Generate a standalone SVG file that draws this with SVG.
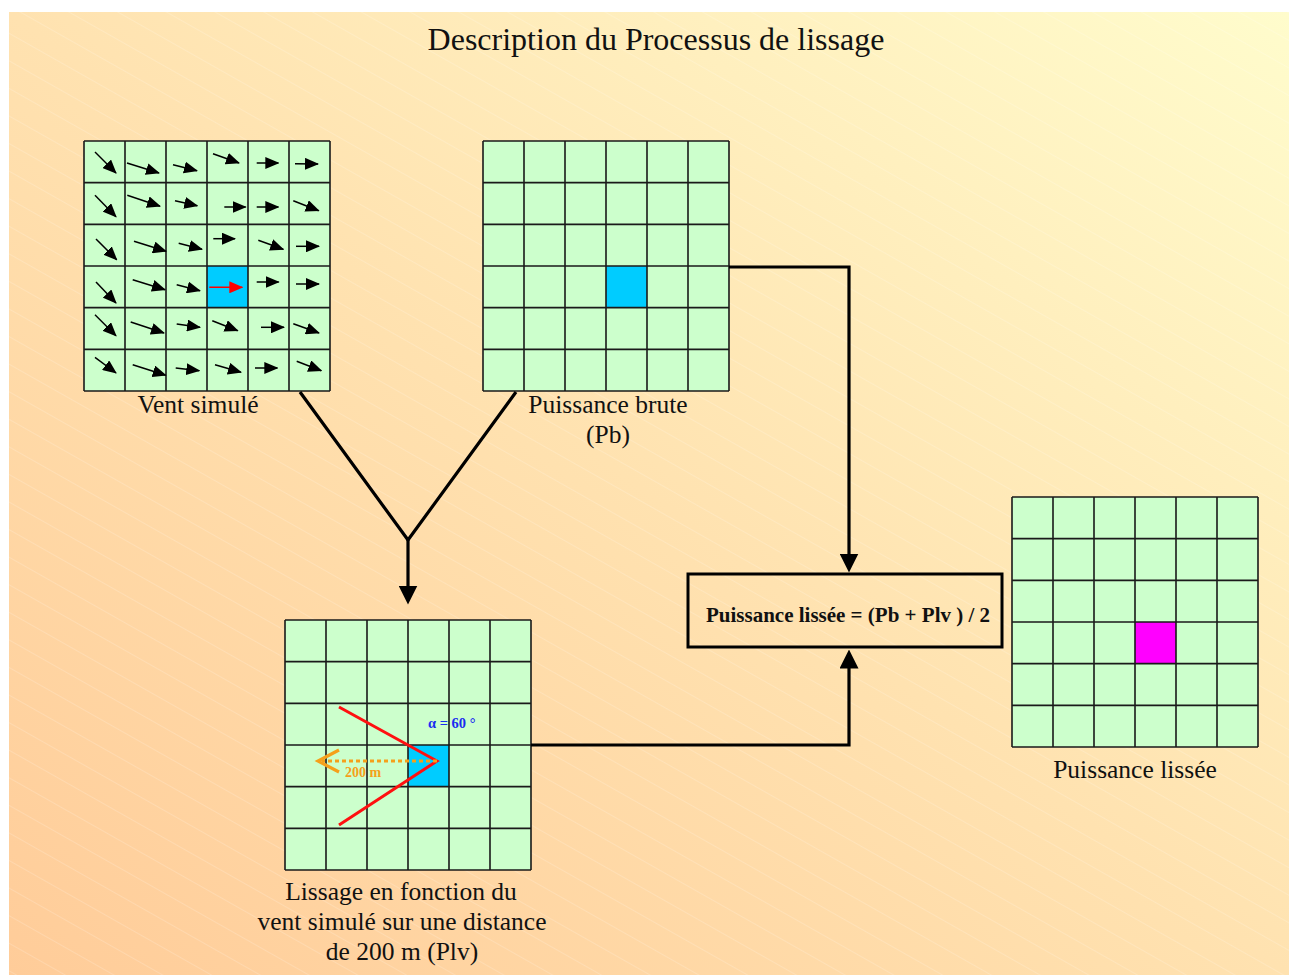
<svg xmlns="http://www.w3.org/2000/svg" width="1289" height="975" viewBox="0 0 1289 975">
<style>
.cell{fill:#CCFFCC}
.gl{fill:none;stroke:#1a1a1a;stroke-width:1.6}
.lbl{font-family:"Liberation Serif","Times New Roman",serif;font-size:25.5px;fill:#111;text-anchor:middle}
.wind{stroke:#000;stroke-width:1.5;fill:none;marker-end:url(#wh)}
.conn{stroke:#000;stroke-width:3.2;fill:none}
</style>
<defs>
<linearGradient id="bg" x1="0" y1="1" x2="1" y2="0">
<stop offset="0" stop-color="#FFCC99"/>
<stop offset="0.5" stop-color="#FFE2B0"/>
<stop offset="1" stop-color="#FFFCCC"/>
</linearGradient>
<pattern id="stripes" width="20" height="24" patternUnits="userSpaceOnUse" patternTransform="rotate(29.5)">
<line x1="0" y1="0.5" x2="20" y2="0.5" stroke="#ffffff" stroke-opacity="0.22" stroke-width="0.8"/>
</pattern>
<marker id="wh" viewBox="0 0 14 12" markerUnits="userSpaceOnUse" markerWidth="14" markerHeight="12" refX="13" refY="6" orient="auto">
<path d="M0,0 L14,6 L0,12 z" fill="#000"/>
</marker>
<marker id="whr" viewBox="0 0 14 12" markerUnits="userSpaceOnUse" markerWidth="14" markerHeight="12" refX="13" refY="6" orient="auto">
<path d="M0,0 L14,6 L0,12 z" fill="#ff0000"/>
</marker>
<marker id="ah" viewBox="0 0 19 19" markerUnits="userSpaceOnUse" markerWidth="19" markerHeight="19" refX="0.5" refY="9.5" orient="auto">
<path d="M0,0 L19,9.5 L0,19 z" fill="#000"/>
</marker>
</defs>

<rect x="9" y="12" width="1280" height="963" fill="url(#bg)"/>
<rect x="9" y="12" width="1280" height="963" fill="url(#stripes)"/>

<text x="656" y="50" font-family="Liberation Serif, Times New Roman, serif" font-size="32" fill="#111" text-anchor="middle">Description du Processus de lissage</text>

<g id="vent-simule">
<rect class="cell" x="84" y="141" width="246" height="250"/>
<rect x="207" y="266" width="41" height="41.67" fill="#00CCFF"/>
<path class="gl" d="M84,141V391M125,141V391M166,141V391M207,141V391M248,141V391M289,141V391M330,141V391M84,141H330M84,182.67H330M84,224.33H330M84,266H330M84,307.67H330M84,349.33H330M84,391H330"/>
<g>
<line class="wind" x1="95" y1="152" x2="116" y2="173"/>
<line class="wind" x1="127" y1="163" x2="159" y2="173"/>
<line class="wind" x1="173" y1="164.7" x2="197" y2="170.7"/>
<line class="wind" x1="213" y1="153.7" x2="239" y2="163"/>
<line class="wind" x1="256.7" y1="163" x2="278.3" y2="163"/>
<line class="wind" x1="295" y1="163.7" x2="318" y2="164"/>

<line class="wind" x1="95" y1="195.3" x2="116" y2="216.7"/>
<line class="wind" x1="127.3" y1="195.3" x2="160" y2="206.3"/>
<line class="wind" x1="175" y1="200.7" x2="197.3" y2="205.7"/>
<line class="wind" x1="224.3" y1="207" x2="245.7" y2="207"/>
<line class="wind" x1="256.7" y1="207" x2="278.3" y2="207"/>
<line class="wind" x1="293.3" y1="200.7" x2="318.7" y2="210.7"/>

<line class="wind" x1="96" y1="239" x2="116.7" y2="259.7"/>
<line class="wind" x1="134" y1="241.3" x2="166" y2="251.3"/>
<line class="wind" x1="178.7" y1="243.3" x2="202" y2="249.3"/>
<line class="wind" x1="213.3" y1="238.7" x2="235" y2="238.7"/>
<line class="wind" x1="258.3" y1="240.3" x2="283.3" y2="249.3"/>
<line class="wind" x1="296" y1="246.3" x2="319" y2="246.3"/>

<line class="wind" x1="96" y1="282" x2="116" y2="303"/>
<line class="wind" x1="132.7" y1="279.7" x2="165" y2="289.7"/>
<line class="wind" x1="176.7" y1="284.7" x2="200" y2="290.7"/>
<line x1="209.3" y1="287.3" x2="242.3" y2="287.3" stroke="#ff0000" stroke-width="1.5" marker-end="url(#whr)"/>
<line class="wind" x1="256.7" y1="282" x2="278.7" y2="282"/>
<line class="wind" x1="296" y1="284" x2="319" y2="284"/>

<line class="wind" x1="95" y1="314.7" x2="116" y2="335.7"/>
<line class="wind" x1="130.7" y1="322" x2="164" y2="333"/>
<line class="wind" x1="176.7" y1="324" x2="200" y2="327.3"/>
<line class="wind" x1="212.3" y1="320.7" x2="237.7" y2="330.7"/>
<line class="wind" x1="261" y1="327.3" x2="284" y2="327.3"/>
<line class="wind" x1="293.3" y1="323.7" x2="319" y2="333"/>

<line class="wind" x1="95" y1="357.3" x2="116" y2="373"/>
<line class="wind" x1="132.7" y1="364.7" x2="165.7" y2="375.3"/>
<line class="wind" x1="175.7" y1="368" x2="199.3" y2="370.7"/>
<line class="wind" x1="215" y1="364.7" x2="241" y2="372.3"/>
<line class="wind" x1="255" y1="368" x2="277.3" y2="368"/>
<line class="wind" x1="296.7" y1="361.3" x2="321.3" y2="370.7"/>
</g>
<text class="lbl" x="198" y="413">Vent simulé</text>
</g>

<g id="puissance-brute">
<rect class="cell" x="483" y="141" width="246" height="250"/>
<rect x="606" y="266" width="41" height="41.67" fill="#00CCFF"/>
<path class="gl" d="M483,141V391M524,141V391M565,141V391M606,141V391M647,141V391M688,141V391M729,141V391M483,141H729M483,182.67H729M483,224.33H729M483,266H729M483,307.67H729M483,349.33H729M483,391H729"/>
<text class="lbl" x="608" y="413">Puissance brute</text>
<text class="lbl" x="608" y="443">(Pb)</text>
</g>

<g id="lissage">
<rect class="cell" x="285" y="620" width="246" height="250"/>
<rect x="408" y="745" width="41" height="41.67" fill="#00CCFF"/>
<path class="gl" d="M285,620V870M326,620V870M367,620V870M408,620V870M449,620V870M490,620V870M531,620V870M285,620H531M285,661.67H531M285,703.33H531M285,745H531M285,786.67H531M285,828.33H531M285,870H531"/>
<polyline points="339,707 437,761 339,825" fill="none" stroke="#ff1010" stroke-width="3"/>
<line x1="437" y1="761" x2="322" y2="761" stroke="#F5A01A" stroke-width="3.2" stroke-dasharray="4,3"/>
<polyline points="339,750 318,761 339,772" fill="none" stroke="#F5A01A" stroke-width="3.2"/>
<text x="345" y="777" font-family="Liberation Serif, Times New Roman, serif" font-size="14" font-weight="bold" fill="#F5A01A">200 m</text>
<text x="428" y="728" font-family="Liberation Serif, Times New Roman, serif" font-size="14.5" font-weight="bold" fill="#1a2cf0">α = 60 °</text>
<text class="lbl" x="401" y="900">Lissage en fonction du</text>
<text class="lbl" x="402" y="930">vent simulé sur une distance</text>
<text class="lbl" x="402" y="960">de 200 m (Plv)</text>
</g>

<g id="formule">
<rect x="688" y="574" width="314" height="73" fill="none" stroke="#000" stroke-width="3"/>
<text x="848" y="622" font-family="Liberation Serif, Times New Roman, serif" font-size="21" font-weight="bold" fill="#111" text-anchor="middle">Puissance lissée = (Pb + Plv ) / 2</text>
</g>

<g id="puissance-lissee">
<rect class="cell" x="1012" y="497" width="246" height="250"/>
<rect x="1135" y="622" width="41" height="41.67" fill="#FF00FF"/>
<path class="gl" d="M1012,497V747M1053,497V747M1094,497V747M1135,497V747M1176,497V747M1217,497V747M1258,497V747M1012,497H1258M1012,538.67H1258M1012,580.33H1258M1012,622H1258M1012,663.67H1258M1012,705.33H1258M1012,747H1258"/>
<text class="lbl" x="1135" y="778">Puissance lissée</text>
</g>

<g id="connecteurs">
<polyline class="conn" points="300,392 408,540 516,392"/>
<line class="conn" x1="408" y1="540" x2="408" y2="586" marker-end="url(#ah)"/>
<polyline class="conn" points="729,267 849,267 849,554" marker-end="url(#ah)"/>
<polyline class="conn" points="531,745 849,745 849,668" marker-end="url(#ah)"/>
</g>
</svg>
